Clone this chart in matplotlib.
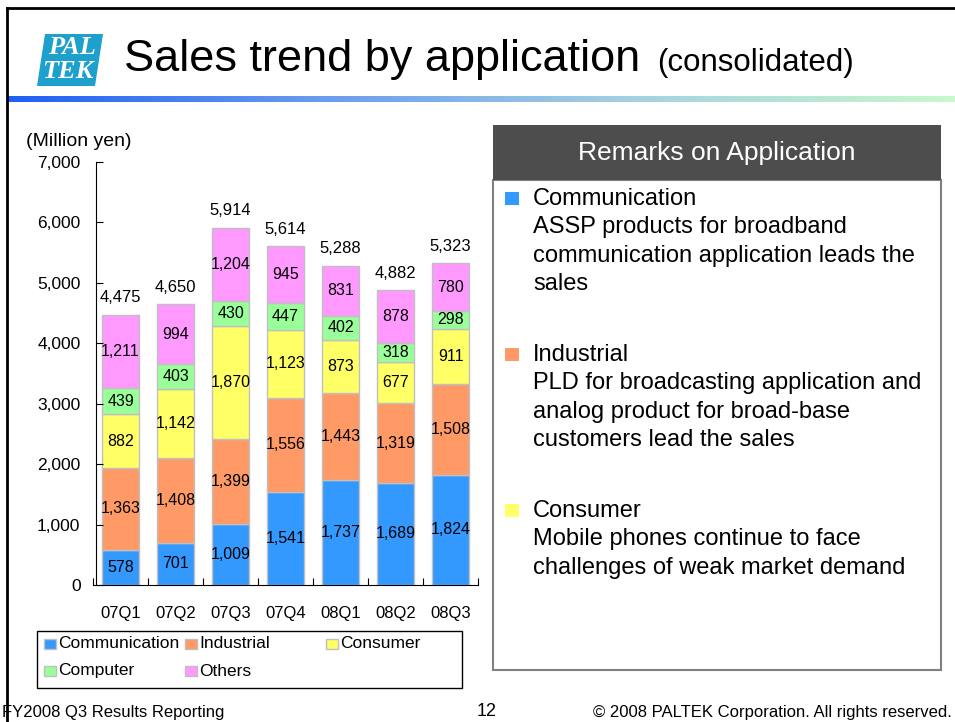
import numpy as np
import matplotlib
matplotlib.use("Agg")
import matplotlib.pyplot as plt
from matplotlib.patches import Rectangle, Polygon
from matplotlib.colors import LinearSegmentedColormap

plt.rcParams['font.family'] = ['Liberation Sans', 'DejaVu Sans']

# =============================================================================
# DATA
# =============================================================================

quarters = ["07Q1", "07Q2", "07Q3", "07Q4", "08Q1", "08Q2", "08Q3"]
communication = [578, 701, 1009, 1541, 1737, 1689, 1824]
industrial = [1363, 1408, 1399, 1556, 1443, 1319, 1508]
consumer = [882, 1142, 1870, 1123, 873, 677, 911]
computer = [439, 403, 430, 447, 402, 318, 298]
others = [1211, 994, 1204, 945, 831, 878, 780]
totals = [4475, 4650, 5914, 5614, 5288, 4882, 5323]

series_names = ["Communication", "Industrial", "Consumer", "Computer", "Others"]
series_values = [communication, industrial, consumer, computer, others]
series_colors = ["#3399ff", "#ff9966", "#ffff66", "#99ff99", "#ff99ff"]

yticks = [0, 1000, 2000, 3000, 4000, 5000, 6000, 7000]

remarks = [
    ("Communication", ["ASSP products for broadband",
                       "communication application leads the",
                       "sales"]),
    ("Industrial", ["PLD for broadcasting application and",
                    "analog product for broad-base",
                    "customers lead the sales"]),
    ("Consumer", ["Mobile phones continue to face",
                  "challenges of weak market demand"]),
]

# =============================================================================
# FIGURE (pixel helpers, 955x722)
# =============================================================================

W, H = 955, 722
fig = plt.figure(figsize=(W/100, H/100), dpi=100)
fig.patch.set_facecolor("white")

def fx(x):
    return x / W

def fy(y):
    return 1 - y / H

def ftext(x, y, s, **kw):
    fig.text(fx(x), fy(y), s, **kw)

# frame lines
fig.add_artist(plt.Line2D([fx(7), fx(955)], [fy(8), fy(8)], color="black", lw=2))
fig.add_artist(plt.Line2D([fx(7), fx(7)], [fy(8), fy(722)], color="black", lw=2))

# gradient bar under the title
gax = fig.add_axes([fx(8), fy(102), fx(955) - fx(8), (102 - 96) / H])
grad_cmap = LinearSegmentedColormap.from_list("hdr", ["#1f5ff5", "#6a9cef", "#a6d2e0", "#c8f8cc"])
gax.imshow(np.linspace(0, 1, 256)[None, :], aspect="auto", cmap=grad_cmap)
gax.axis("off")

# logo
fig.add_artist(Polygon([(fx(45), fy(34)), (fx(103), fy(34)), (fx(95), fy(86)), (fx(37), fy(86))],
                       closed=True, facecolor="#1ea0cc", edgecolor="none"))
ftext(72, 48, "PAL", color="white", fontsize=19, family="Liberation Serif",
      style="italic", weight="bold", ha="center", va="center")
ftext(68, 72, "TEK", color="white", fontsize=19, family="Liberation Serif",
      style="italic", weight="bold", ha="center", va="center")

# title
ftext(124, 71, "Sales trend by application", fontsize=32.5, va="baseline", ha="left")
ftext(657, 71, "(consolidated)", fontsize=22.5, va="baseline", ha="left")

# =============================================================================
# STACKED BAR CHART
# =============================================================================

ax = fig.add_axes([fx(93), fy(585), fx(478) - fx(93), (585 - 162) / H])
x = np.arange(len(quarters))
bottom = np.zeros(len(quarters))
for name, vals, col in zip(series_names, series_values, series_colors):
    vals = np.array(vals)
    ax.bar(x, vals, 0.68, bottom=bottom, color=col, edgecolor="#c0c0c0", lw=1, label=name)
    for xi, b, v in zip(x, bottom, vals):
        ax.text(xi, b + v / 2, f"{v:,}", ha="center", va="center", fontsize=11.5)
    bottom = bottom + vals

for xi, t in zip(x, totals):
    ax.annotate(f"{t:,}", (xi, t), xytext=(0, 12), textcoords="offset points",
                ha="center", va="center", fontsize=12)

ax.set_xlim(-0.5, len(quarters) - 0.5)
ax.set_ylim(0, 7000)
ax.set_yticks(yticks)
ax.set_yticklabels([f"{v:,}" for v in yticks])
ax.set_xticks(np.arange(-0.5, len(quarters), 1))
ax.set_xticklabels([])
ax.set_xticks(x, minor=True)
ax.set_xticklabels(quarters, minor=True)
ax.tick_params(axis="y", direction="in", length=5, pad=11, labelsize=12.5)
ax.tick_params(axis="x", which="major", direction="in", length=5)
ax.tick_params(axis="x", which="minor", length=0, pad=15, labelsize=12)
for s in ["top", "right"]:
    ax.spines[s].set_visible(False)
ax.spines["left"].set_position(("outward", -2))
ax.set_facecolor("none")

ftext(26, 141, "(Million yen)", fontsize=14, va="center", ha="left")

# legend (drawn by hand, 3 columns, row-major)
fig.add_artist(Rectangle((fx(37), fy(688)), fx(462) - fx(37), (688 - 631) / H,
                         facecolor="white", edgecolor="black", lw=1))
leg_x = [44, 185, 326]
leg_y = [644, 671]
for i, (name, col) in enumerate(zip(series_names, series_colors)):
    r, c = divmod(i, 3)
    x0, y0 = leg_x[c], leg_y[r]
    fig.add_artist(Rectangle((fx(x0), fy(y0 + 5)), 12 / W, 10 / H,
                             facecolor=col, edgecolor="#c0c0c0", lw=1))
    ftext(x0 + 14, y0, name, fontsize=12.5, va="center", ha="left")

# =============================================================================
# REMARKS PANEL
# =============================================================================

fig.add_artist(Rectangle((fx(493), fy(670)), fx(941) - fx(493), (670 - 180) / H,
                         facecolor="white", edgecolor="#808080", lw=1.5))
fig.add_artist(Rectangle((fx(493), fy(180)), fx(941) - fx(493), (180 - 125) / H,
                         facecolor="#4d4d4d", edgecolor="none"))
ftext(717, 153, "Remarks on Application", fontsize=19, color="white", ha="center", va="center")

block_y = [199, 355, 511]
line_h = 28.5
for (head, lines), y0, col in zip(remarks, block_y, series_colors):
    fig.add_artist(Rectangle((fx(505), fy(y0 + 6)), 14 / W, 13 / H,
                             facecolor=col, edgecolor="none"))
    ftext(533, y0, head, fontsize=17, va="center", ha="left")
    for k, ln in enumerate(lines):
        ftext(533, y0 + (k + 1) * line_h, ln, fontsize=17, va="center", ha="left")

# footer
ftext(2, 712, "FY2008 Q3 Results Reporting", fontsize=12, va="center", ha="left")
ftext(487, 711, "12", fontsize=13, va="center", ha="center")
ftext(952, 712, "\u00a9 2008 PALTEK Corporation. All rights reserved.", fontsize=12,
      va="center", ha="right")

fig.savefig("out.png", dpi=100)
